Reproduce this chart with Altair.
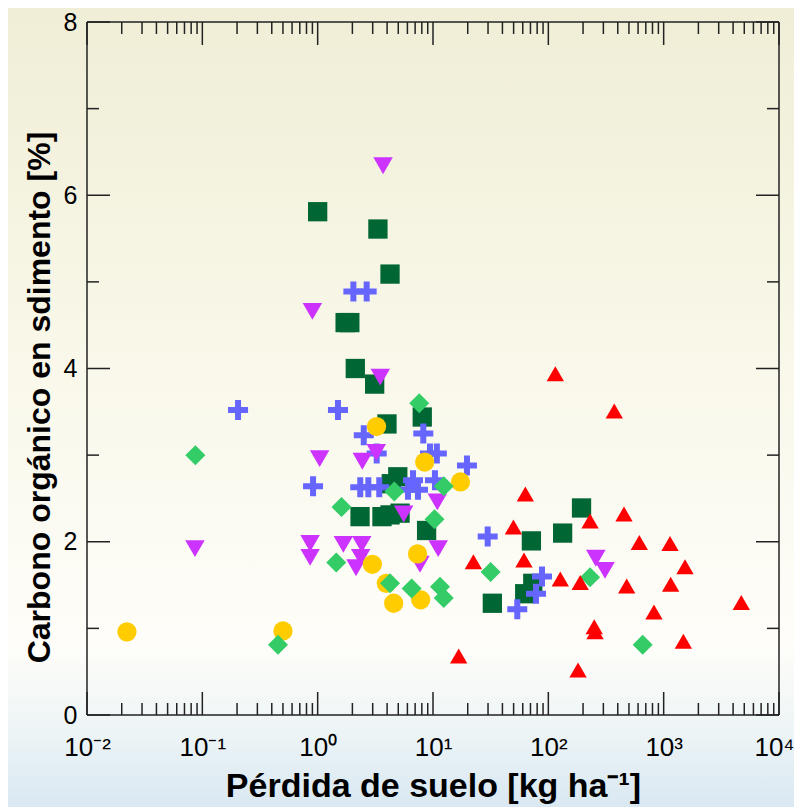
import altair as alt
import pandas as pd

# ---------------- data ----------------
# dark green squares
sq_x = [1.0, 3.33, 4.24, 1.73, 1.90, 2.12, 3.12, 3.99, 8.07, 4.35, 4.95, 2.33, 3.61, 4.24, 5.18, 8.8,
        194, 133, 71.3, 73.3, 62.4, 32.7]
sq_y = [5.81, 5.61, 5.09, 4.53, 4.53, 4.00, 3.82, 3.36, 3.44, 2.67, 2.75, 2.29, 2.29, 2.31, 2.33, 2.13,
        2.39, 2.10, 2.01, 1.52, 1.40, 1.29]
# blue crosses
cr_x = [0.204, 1.50, 2.04, 2.66, 2.51, 3.25, 8.24, 9.42, 10.8, 19.7, 0.912, 2.34, 2.75, 3.42, 6.07,
        6.71, 7.41, 10.4, 29.8, 88.1, 78.2, 53.8]
cr_y = [3.52, 3.52, 4.89, 4.89, 3.23, 3.02, 3.25, 3.02, 3.02, 2.88, 2.64, 2.63, 2.63, 2.63, 2.60,
        2.71, 2.60, 2.71, 2.06, 1.60, 1.40, 1.22]
# purple down triangles
td_x = [3.69, 0.90, 3.49, 0.0863, 0.86, 0.86, 1.67, 2.41, 2.36, 2.15, 11.1, 7.71, 1.04, 2.44, 3.22,
        10.9, 5.57, 258, 310]
td_y = [6.34, 4.66, 3.90, 1.92, 1.98, 1.82, 1.97, 1.97, 1.82, 1.70, 1.92, 1.74, 2.96, 2.93, 3.03,
        2.46, 2.32, 1.81, 1.67]
# yellow circles
ci_x = [0.0222, 0.50, 3.24, 8.47, 17.3, 7.35, 2.98, 3.94, 4.56, 7.82]
ci_y = [0.96, 0.97, 3.33, 2.92, 2.69, 1.86, 1.74, 1.52, 1.29, 1.33]
# green diamonds
di_x = [0.087, 0.453, 7.6, 1.61, 4.62, 12.4, 10.3, 1.45, 4.24, 6.53, 11.5, 12.4, 31.6, 230, 658]
di_y = [3.00, 0.81, 3.60, 2.40, 2.58, 2.64, 2.26, 1.76, 1.52, 1.46, 1.48, 1.35, 1.65, 1.59, 0.81]
# red up triangles
tu_x = [115, 373, 63.2, 453, 230, 49.8, 615, 1135, 22.4, 61.5, 1531, 127, 189, 478, 1150, 4710, 824,
        250, 254, 1482, 16.7, 181]
tu_y = [3.94, 3.51, 2.55, 2.32, 2.24, 2.17, 1.99, 1.98, 1.77, 1.79, 1.71, 1.57, 1.53, 1.49, 1.51,
        1.30, 1.19, 1.02, 0.96, 0.85, 0.68, 0.52]

x_major = [0.01, 0.1, 1, 10, 100, 1000, 10000]
x_tick_labels = ["10\u207b\u00b2", "10\u207b\u00b9", "10\u2070", "10\u00b9", "10\u00b2", "10\u00b3", "10\u2074"]
x_minor = [m * d for d in [0.01, 0.1, 1, 10, 100, 1000] for m in range(2, 10)]
y_major = [0, 2, 4, 6, 8]
y_minor = [1, 3, 5, 7]

# ---------------- chart ----------------
W, H = 692, 693
PL, PT, PR, PB = 79, 14, 15, 92
FONT = "Liberation Sans, Arial, sans-serif"
MAJ, MIN = 23, 12

xscale = alt.Scale(type="log", domain=[0.01, 10000], nice=False)
yscale = alt.Scale(domain=[0, 8], nice=False, zero=False)

label_expr = "[" + ",".join("'%s'" % s for s in x_tick_labels) + "][round(log(datum.value)/LN10)+2]"

x_axis = alt.Axis(values=x_major, labelExpr=label_expr, ticks=False, domain=False, grid=False,
                  labelFontSize=26, labelFont=FONT, labelColor="black", labelPadding=19,
                  labelOverlap=False, labelFlush=False, zindex=2,
                  labelOffset=alt.condition("datum.value > 5000", alt.value(-5), alt.value(0)),
                  title="Pérdida de suelo [kg ha\u207b\u00b9]", titleFont=FONT, titleFontSize=34,
                  titleFontWeight="bold", titleColor="black", titlePadding=9)
y_axis = alt.Axis(values=y_major, format="d", ticks=False, domain=False, grid=False,
                  labelFontSize=25, labelFont=FONT, labelColor="black", labelPadding=10, zindex=2,
                  title="Carbono orgánico en sdimento [%]", titleFont=FONT, titleFontSize=32,
                  titleFontWeight="bold", titleColor="black", titlePadding=7, titleY=375)

grad = alt.LinearGradient(
    gradient="linear", x1=0, x2=0, y1=0, y2=1,
    stops=[alt.GradientStop(offset=0, color="#f0eed6"),
           alt.GradientStop(offset=0.45, color="#f9f8ea"),
           alt.GradientStop(offset=0.8, color="#fefdf9"),
           alt.GradientStop(offset=0.9, color="#eef5f6"),
           alt.GradientStop(offset=1, color="#d9e8f2")])

one = pd.DataFrame({"a": [0]})
bg = alt.Chart(one).mark_rect(fill=grad, clip=False).encode(
    x=alt.value(-PL), x2=alt.value(W + PR), y=alt.value(-PT), y2=alt.value(H + PB))

# plot frame
frame = [
    alt.Chart(one).mark_rule(color="#222", strokeWidth=1.5).encode(x=alt.value(0), y=alt.value(0), y2=alt.value(H)),
    alt.Chart(one).mark_rule(color="#222", strokeWidth=1.5).encode(x=alt.value(W), y=alt.value(0), y2=alt.value(H)),
    alt.Chart(one).mark_rule(color="#222", strokeWidth=1.5).encode(y=alt.value(0), x=alt.value(0), x2=alt.value(W)),
    alt.Chart(one).mark_rule(color="#222", strokeWidth=1.5).encode(y=alt.value(H), x=alt.value(0), x2=alt.value(W)),
]


def tick_layer(vals, channel, length, side):
    df = pd.DataFrame({"v": vals})
    base = alt.Chart(df).mark_rule(color="#222", strokeWidth=1.5)
    if channel == "x":
        enc = dict(x=alt.X("v:Q", scale=xscale, axis=x_axis))
        if side == "bottom":
            enc.update(y=alt.value(H), y2=alt.value(H - length))
        else:
            enc.update(y=alt.value(0), y2=alt.value(length))
    else:
        enc = dict(y=alt.Y("v:Q", scale=yscale, axis=y_axis))
        if side == "left":
            enc.update(x=alt.value(0), x2=alt.value(length))
        else:
            enc.update(x=alt.value(W), x2=alt.value(W - length))
    return base.encode(**enc)


ticks = [
    tick_layer(x_major, "x", MAJ, "bottom"), tick_layer(x_major, "x", MAJ, "top"),
    tick_layer(x_minor, "x", MIN, "bottom"), tick_layer(x_minor, "x", MIN, "top"),
    tick_layer(y_major, "y", MAJ, "left"), tick_layer(y_major, "y", MAJ, "right"),
    tick_layer(y_minor, "y", MIN, "left"), tick_layer(y_minor, "y", MIN, "right"),
]

CROSS = "M-1,-0.3L-0.3,-0.3L-0.3,-1L0.3,-1L0.3,-0.3L1,-0.3L1,0.3L0.3,0.3L0.3,1L-0.3,1L-0.3,0.3L-1,0.3Z"


def pts(xs, ys, shape, color, size):
    df = pd.DataFrame({"x": xs, "y": ys})
    return alt.Chart(df).mark_point(filled=True, opacity=1, shape=shape, color=color, size=size,
                                    strokeWidth=0).encode(
        x=alt.X("x:Q", scale=xscale, axis=x_axis),
        y=alt.Y("y:Q", scale=yscale, axis=y_axis))


points = [
    pts(sq_x, sq_y, "square", "#006633", 372),
    pts(cr_x, cr_y, CROSS, "#6666ff", 400),
    pts(td_x, td_y, "triangle-down", "#cc33ff", 380),
    pts(ci_x, ci_y, "circle", "#ffcc00", 372),
    pts(di_x, di_y, "diamond", "#33cc66", 400),
    pts(tu_x, tu_y, "triangle-up", "#ff0000", 300),
]

chart = alt.layer(bg, *frame, *ticks, *points).properties(
    width=W, height=H,
    autosize=alt.AutoSizeParams(type="none"),
    padding={"left": PL, "top": PT, "right": PR, "bottom": PB},
    background="#fdfdf8",
).configure_view(stroke=None, fill=None)

chart.save("out.html", embed_options={"renderer": "svg", "actions": False})
